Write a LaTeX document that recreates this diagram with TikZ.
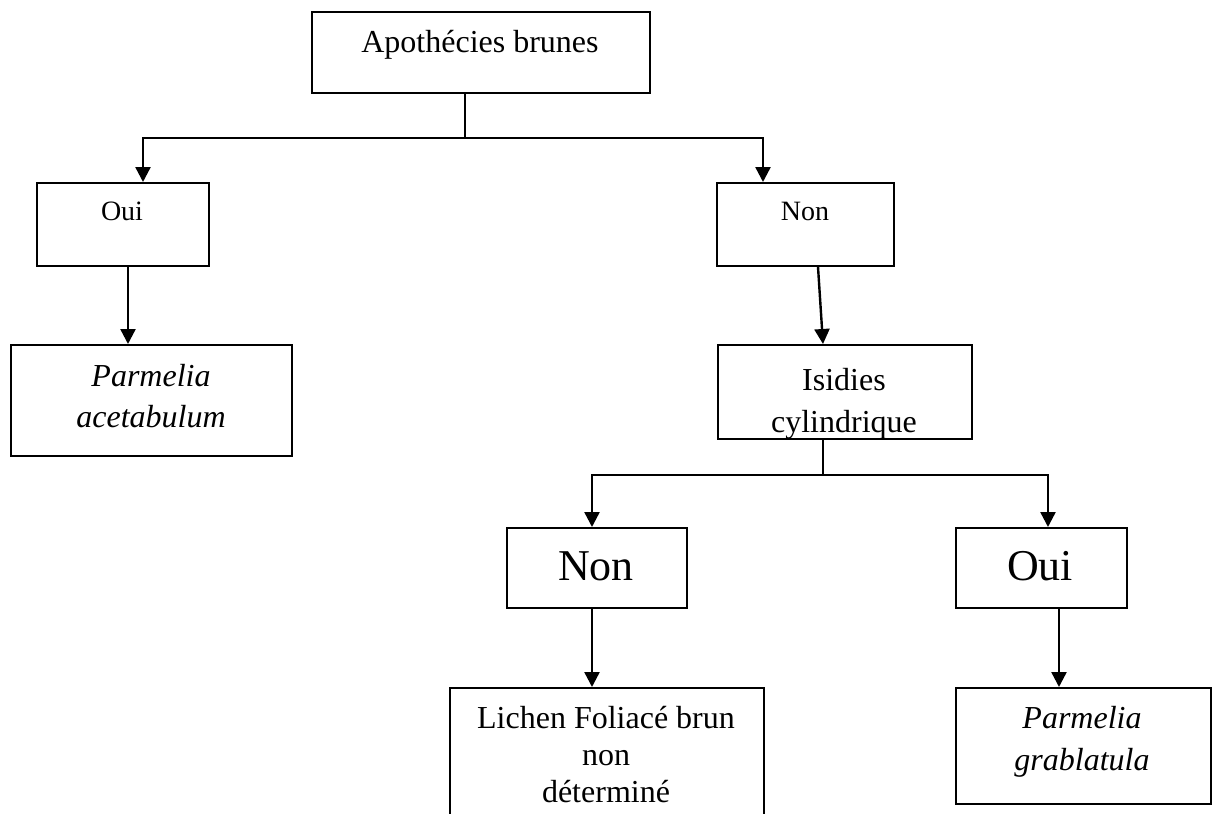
\documentclass[tikz,border=0pt]{standalone}
\usepackage{fontspec}
\setmainfont{Liberation Serif}
\usetikzlibrary{arrows.meta}
\begin{document}
\begin{tikzpicture}[x=1pt,y=-1pt,
  box/.style={draw, line width=1.8pt, inner sep=0pt, anchor=north west},
  txt/.style={font=\fontsize{32}{37}\selectfont, anchor=base, align=center, inner sep=0pt},
  small/.style={font=\fontsize{28}{32}\selectfont, anchor=base, inner sep=0pt},
  big/.style={font=\fontsize{44}{50}\selectfont, anchor=base, inner sep=0pt},
  conn/.style={line width=2.4pt},
  arr/.style={conn, -{Triangle[length=15pt,width=15pt]}}]
\clip (0,0) rectangle (1219,814);
% boxes
\node[box, minimum width=338pt, minimum height=81pt] (top) at (311,11) {};
\node[box, minimum width=172pt, minimum height=83pt] (oui1) at (36,182) {};
\node[box, minimum width=177pt, minimum height=83pt] (non1) at (716,182) {};
\node[box, minimum width=281pt, minimum height=111pt] (parm1) at (10,344) {};
\node[box, minimum width=254pt, minimum height=94pt] (isid) at (717,344) {};
\node[box, minimum width=180pt, minimum height=80pt] (non2) at (506,527) {};
\node[box, minimum width=171pt, minimum height=80pt] (oui2) at (955,527) {};
\node[box, minimum width=314pt, minimum height=150pt] (lich) at (449,687) {};
\node[box, minimum width=255pt, minimum height=116pt] (parm2) at (955,687) {};
% texts
\node[txt] (topT) at (480,52) {Apothécies brunes};
\node[small] (oui1T) at (122,220) {Oui};
\node[small] (non1T) at (805,220) {Non};
\node[txt, font=\fontsize{32}{41}\selectfont] (parm1T) at (151,427) {\textit{Parmelia}\\\textit{acetabulum}};
\begin{scope}
\clip (isid.north west) rectangle ([yshift=1pt]isid.south east);
\node[txt, font=\fontsize{32}{42}\selectfont] (isidT) at (844,432) {Isidies\\cylindrique};
\end{scope}
\node[big] (non2T) at (596,580) {Non};
\node[big] (oui2T) at (1040,580) {Oui};
\node[txt, font=\fontsize{32}{37}\selectfont] (lichT) at (606,802) {Lichen Foliacé brun\\non\\déterminé};
\node[txt, font=\fontsize{32}{42}\selectfont] (parm2T) at (1082,770) {\textit{Parmelia}\\\textit{grablatula}};
% connector coordinates
\coordinate (j1) at (465,138);
\coordinate (hL) at (143,138);
\coordinate (hR) at (763,138);
\coordinate (x128) at (128,0);
\coordinate (x818) at (818,0);
\coordinate (j2) at (823,475);
\coordinate (gL) at (592,475);
\coordinate (gR) at (1048,475);
\coordinate (x1059) at (1059,0);
% connectors
\draw[conn] (top.south -| j1) -- (j1);
\draw[arr] (j1) -- (hL) -- (hL |- oui1.north);
\draw[arr] (j1) -- (hR) -- (hR |- non1.north);
\draw[arr] (oui1.south -| x128) -- (parm1.north -| x128);
\draw[arr] (non1.south -| x818) -- (isid.north -| j2);
\draw[conn] (isid.south -| j2) -- (j2);
\draw[arr] (j2) -- (gL) -- (gL |- non2.north);
\draw[arr] (j2) -- (gR) -- (gR |- oui2.north);
\draw[arr] (non2.south -| gL) -- (lich.north -| gL);
\draw[arr] (oui2.south -| x1059) -- (parm2.north -| x1059);
\end{tikzpicture}
\end{document}
